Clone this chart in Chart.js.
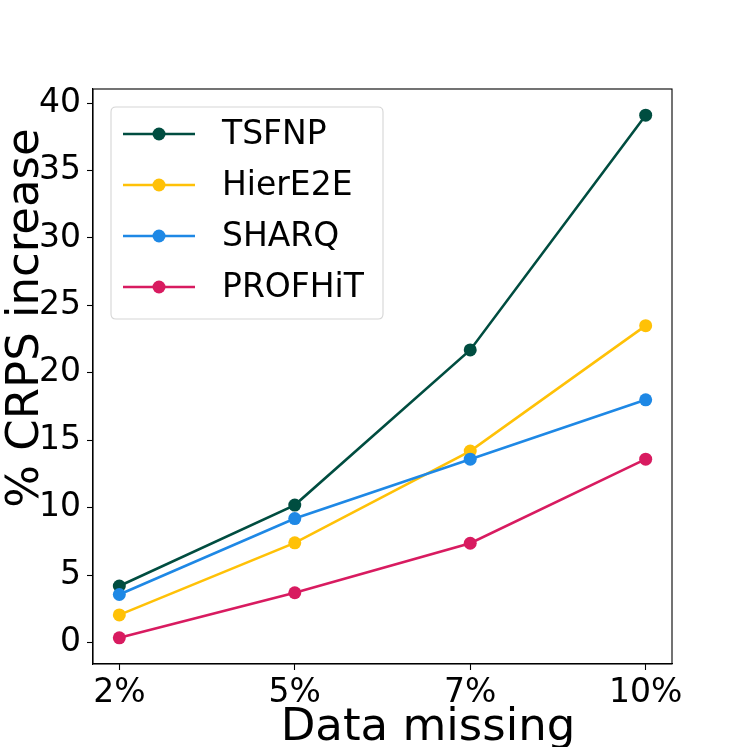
<!DOCTYPE html>
<html>
<head>
<meta charset="utf-8">
<script src="https://cdn.jsdelivr.net/npm/chart.js@4.4.0/dist/chart.umd.min.js"></script>
<style>
html,body{margin:0;padding:0;background:#fff;}
canvas{display:block;}
</style>
</head>
<body>
<canvas id="c" width="747" height="747"></canvas>
<script>
const categories = ['2%', '5%', '7%', '10%'];
const seriesNames = ['TSFNP', 'HierE2E', 'SHARQ', 'PROFHiT'];
const tsfnp   = [4.2, 10.2, 21.7, 39.1];
const hiere2e = [2.06, 7.4, 14.2, 23.5];
const sharq   = [3.57, 9.2, 13.6, 18.0];
const profhit = [0.36, 3.7, 7.37, 13.6];
const yTicks = [0, 5, 10, 15, 20, 25, 30, 35, 40];
const colors = ['#004D40', '#FFC107', '#1E88E5', '#D81B60'];
const xLabel = 'Data missing';
const yLabel = '% CRPS increase';

const allSeries = [tsfnp, hiere2e, sharq, profhit];
const FONT = '"DejaVu Sans", sans-serif';
const LW = 2.6;
const PR = 6.5;

const datasets = allSeries.map((vals, i) => ({
  label: seriesNames[i],
  data: vals.map((v, j) => ({x: j, y: v})),
  borderColor: colors[i],
  backgroundColor: colors[i],
  pointBackgroundColor: colors[i],
  pointBorderColor: colors[i],
  pointRadius: PR,
  pointBorderWidth: 0,
  borderWidth: LW,
  tension: 0,
  order: allSeries.length - i,
  clip: false
}));

const framePlugin = {
  id: 'frame',
  afterDatasetsDraw(chart) {
    const {ctx, chartArea: a} = chart;
    ctx.save();
    ctx.strokeStyle = '#000';
    ctx.lineWidth = 1.1;
    ctx.strokeRect(a.left, a.top, a.right - a.left, a.bottom - a.top);
    ctx.restore();
  }
};

const legendPlugin = {
  id: 'customLegend',
  afterDraw(chart) {
    const {ctx} = chart;
    const bx = 111, by = 107, bw = 272, bh = 212, r = 5;
    ctx.save();
    ctx.beginPath();
    ctx.moveTo(bx + r, by);
    ctx.lineTo(bx + bw - r, by);
    ctx.quadraticCurveTo(bx + bw, by, bx + bw, by + r);
    ctx.lineTo(bx + bw, by + bh - r);
    ctx.quadraticCurveTo(bx + bw, by + bh, bx + bw - r, by + bh);
    ctx.lineTo(bx + r, by + bh);
    ctx.quadraticCurveTo(bx, by + bh, bx, by + bh - r);
    ctx.lineTo(bx, by + r);
    ctx.quadraticCurveTo(bx, by, bx + r, by);
    ctx.closePath();
    ctx.fillStyle = 'rgba(255,255,255,0.8)';
    ctx.fill();
    ctx.strokeStyle = '#d6d6d6';
    ctx.lineWidth = 1.1;
    ctx.stroke();
    chart.data.datasets.forEach((ds, i) => {
      const y = 134 + i * 51;
      ctx.strokeStyle = ds.borderColor;
      ctx.lineWidth = LW;
      ctx.beginPath();
      ctx.moveTo(123, y);
      ctx.lineTo(195, y);
      ctx.stroke();
      ctx.fillStyle = ds.borderColor;
      ctx.beginPath();
      ctx.arc(159, y, PR, 0, Math.PI * 2);
      ctx.fill();
      ctx.fillStyle = '#000';
      ctx.font = '33px ' + FONT;
      ctx.textAlign = 'left';
      ctx.textBaseline = 'middle';
      ctx.fillText(ds.label, 222, y + 1);
    });
    ctx.restore();
  }
};

const axisTitlePlugin = {
  id: 'axisTitles',
  afterDraw(chart) {
    const {ctx} = chart;
    ctx.save();
    ctx.fillStyle = '#000';
    ctx.font = '45px ' + FONT;
    ctx.textAlign = 'center';
    ctx.textBaseline = 'alphabetic';
    ctx.fillText(xLabel, 428, 740);
    ctx.translate(38, 318);
    ctx.rotate(-Math.PI / 2);
    ctx.fillText(yLabel, 0, 0);
    ctx.restore();
  }
};

new Chart(document.getElementById('c'), {
  type: 'line',
  data: {datasets},
  options: {
    responsive: false,
    animation: false,
    devicePixelRatio: 1,
    layout: {padding: {left: 0, top: 89, right: 75, bottom: 0}},
    plugins: {legend: {display: false}, tooltip: {enabled: false}},
    scales: {
      x: {
        type: 'linear',
        min: -0.15,
        max: 3.15,
        afterBuildTicks: s => { s.ticks = categories.map((c, i) => ({value: i})); },
        afterFit: s => { s.height = 83; },
        ticks: {
          callback: v => categories[v],
          font: {family: FONT, size: 33},
          color: '#000',
          padding: 4,
          maxRotation: 0,
          autoSkip: false
        },
        grid: {display: true, drawOnChartArea: false, tickLength: 6, color: '#000', tickWidth: 1.1},
        border: {display: true, color: '#000', width: 1.1}
      },
      y: {
        type: 'linear',
        min: -1.58,
        max: 41.04,
        afterBuildTicks: s => { s.ticks = yTicks.map(v => ({value: v})); },
        afterFit: s => { s.width = 93; },
        ticks: {
          font: {family: FONT, size: 33},
          color: '#000',
          padding: 6,
          autoSkip: false
        },
        grid: {display: true, drawOnChartArea: false, tickLength: 6, color: '#000', tickWidth: 1.1},
        border: {display: true, color: '#000', width: 1.1}
      }
    }
  },
  plugins: [framePlugin, legendPlugin, axisTitlePlugin]
});
</script>
</body>
</html>
